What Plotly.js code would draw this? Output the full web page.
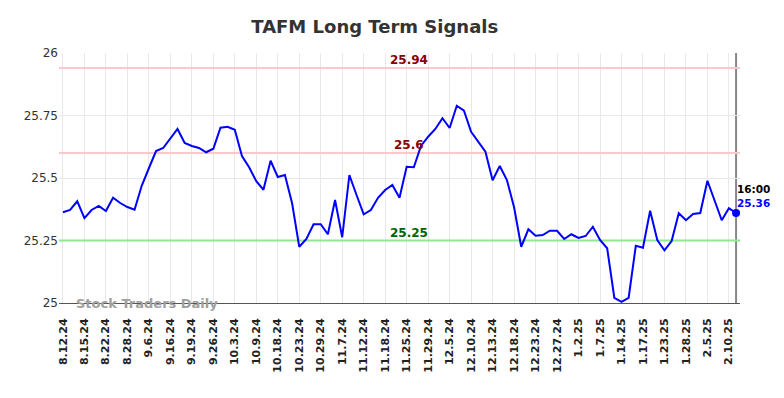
<!DOCTYPE html>
<html>
<head>
<meta charset="utf-8">
<script src="https://cdn.plot.ly/plotly-3.0.1.min.js"></script>
<style>html,body{margin:0;padding:0;background:#fff;}#chart{width:784px;height:398px;}</style>
</head>
<body>
<div id="chart"></div>
<script>
const tickLabels = ["8.12.24","8.15.24","8.22.24","8.28.24","9.6.24","9.16.24","9.19.24","9.26.24","10.3.24","10.9.24","10.18.24","10.23.24","10.29.24","11.7.24","11.12.24","11.18.24","11.25.24","11.29.24","12.5.24","12.10.24","12.13.24","12.18.24","12.23.24","12.27.24","1.2.25","1.7.25","1.14.25","1.17.25","1.23.25","1.28.25","2.5.25","2.10.25"];
const prices = [25.363,25.372,25.407,25.339,25.372,25.388,25.368,25.421,25.40,25.384,
25.373,25.469,25.539,25.608,25.62,25.657,25.696,25.64,25.628,25.62,
25.603,25.617,25.701,25.705,25.693,25.588,25.543,25.487,25.453,25.569,
25.504,25.512,25.399,25.225,25.256,25.315,25.315,25.275,25.412,25.263,
25.512,25.432,25.355,25.372,25.421,25.452,25.472,25.421,25.545,25.543,
25.628,25.665,25.696,25.739,25.70,25.789,25.769,25.685,25.645,25.605,
25.491,25.548,25.492,25.383,25.225,25.295,25.269,25.272,25.289,25.289,
25.256,25.275,25.26,25.268,25.305,25.252,25.219,25.021,25.005,25.021,
25.229,25.221,25.369,25.252,25.211,25.248,25.359,25.331,25.356,25.36,
25.489,25.408,25.331,25.379,25.36];
const pointsPerTick = 3;
const levelValues = [25.94, 25.6, 25.25];
const levelLabels = ["25.94", "25.6", "25.25"];
const yTickVals = [25, 25.25, 25.5, 25.75, 26];
const yTickText = ["25", "25.25", "25.5", "25.75", "26"];
const lastTime = "16:00";
const lastLabel = "25.36";

const xs = prices.map((_, i) => i);
const tickVals = tickLabels.map((_, i) => i * pointsPerTick);
const lastIdx = prices.length - 1;
const pad = 0.55;
const xRange = [-pad, lastIdx + pad];
const font = "DejaVu Sans, sans-serif";
const levelLine = ["#ffc8c8", "#ffc8c8", "#90e890"];
const levelText = ["#8b0000", "#8b0000", "#006400"];
const midX = Math.round(lastIdx * 0.51);

const shapes = [{type: "line", xref: "x", x0: lastIdx, x1: lastIdx, yref: "paper", y0: 0, y1: 1,
  line: {color: "#888", width: 2}, layer: "below"}];

const annotations = levelValues.map((v, i) => ({
  x: midX, y: v, xref: "x", yref: "y", text: "<b>" + levelLabels[i] + "</b>",
  showarrow: false, yanchor: "bottom", yshift: -1, xshift: 2,
  font: {family: font, size: 12, color: levelText[i]}
}));
annotations.push({x: 0.022, y: 0, xref: "paper", yref: "paper", text: "<b>Stock Traders Daily</b>",
  showarrow: false, xanchor: "left", yanchor: "bottom", yshift: -10,
  font: {family: font, size: 13, color: "#a0a0a0"}});
annotations.push({x: lastIdx, y: prices[lastIdx], xref: "x", yref: "y", text: "<b>" + lastTime + "</b>",
  showarrow: false, xanchor: "left", yanchor: "bottom", xshift: -1, yshift: 16,
  font: {family: font, size: 10.5, color: "#000"}});
annotations.push({x: lastIdx, y: prices[lastIdx], xref: "x", yref: "y", text: "<b>" + lastLabel + "</b>",
  showarrow: false, xanchor: "left", yanchor: "bottom", xshift: -1, yshift: 2,
  font: {family: font, size: 10.5, color: "#0000ff"}});

const traces = levelValues.map((v, i) => ({
  x: xRange, y: [v, v], type: "scatter", mode: "lines", line: {color: levelLine[i], width: 2}, hoverinfo: "skip"
}));
traces.push({x: xs, y: prices, type: "scatter", mode: "lines", line: {color: "#0000ff", width: 2}, hoverinfo: "skip"});
traces.push({x: [lastIdx], y: [prices[lastIdx]], type: "scatter", mode: "markers", marker: {color: "#0000ff", size: 8},
   cliponaxis: false, hoverinfo: "skip"});

const layout = {
  width: 784, height: 398,
  margin: {l: 59, r: 44, t: 53, b: 95},
  paper_bgcolor: "#fff", plot_bgcolor: "#fff",
  showlegend: false,
  title: {text: "<b>TAFM Long Term Signals</b>", x: 0.478, xanchor: "center", y: 0.932, yanchor: "middle",
    font: {family: font, size: 18, color: "#333"}},
  xaxis: {range: xRange, tickmode: "array", tickvals: tickVals, ticktext: tickLabels,
    tickangle: -90, tickfont: {family: font, size: 11, color: "#222", weight: "bold"},
    ticklabelstandoff: 10,
    showgrid: true, gridcolor: "#e8e8e8", gridwidth: 1, zeroline: false,
    showline: true, linecolor: "#555", linewidth: 1, ticks: "", fixedrange: true},
  yaxis: {range: [25, 26], tickmode: "array", tickvals: yTickVals, ticktext: yTickText,
    tickfont: {family: font, size: 12, color: "#333"},
    showgrid: true, gridcolor: "#e8e8e8", gridwidth: 1, zeroline: false, showline: false, ticks: "", fixedrange: true},
  shapes: shapes,
  annotations: annotations
};

Plotly.newPlot("chart", traces, layout, {displayModeBar: false, staticPlot: true});
</script>
</body>
</html>
